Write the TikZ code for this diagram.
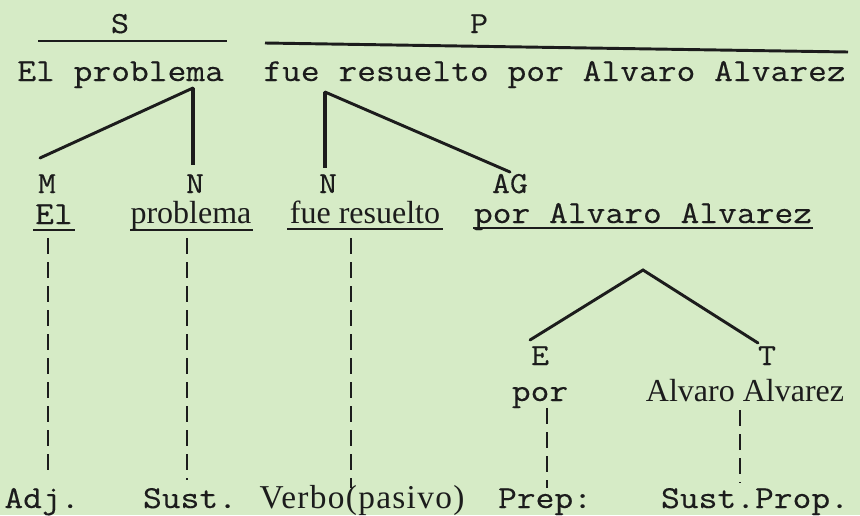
\documentclass[tikz,border=0pt]{standalone}
\usepackage{fontspec}
\setmainfont{Liberation Serif}
\setmonofont[FakeStretch=1.14,FakeBold=0.3]{Latin Modern Mono}
\definecolor{bg}{HTML}{D6EBC6}
\definecolor{ink}{HTML}{1C1C1C}
\begin{document}
\begin{tikzpicture}[x=0.75pt,y=-0.75pt,
  every node/.style={inner sep=0pt, text=ink},
  mono/.style={font=\ttfamily\fontsize{24}{24}\selectfont},
  prop/.style={font=\rmfamily\fontsize{24}{24}\selectfont},
  lab/.style={font=\ttfamily\fontsize{23}{23}\selectfont},
  bar/.style={draw=ink, line width=2.2pt},
  branch/.style={draw=ink, line width=2.2pt, line cap=round},
  trunk/.style={draw=ink, line width=3.6pt},
  uline/.style={draw=ink, line width=1.5pt},
  dl/.style={draw=ink, line width=1.3pt, dash pattern=on 12pt off 6pt}]
\fill[bg] (0,0) rectangle (860,515);
\useasboundingbox (0,0) rectangle (860,515);

% top labels and bars
\node[lab, anchor=base] (S) at (120,33) {S};
\node[lab, anchor=base] (P) at (479,33) {P};
\coordinate (sL) at (38,41); \coordinate (sR) at (227,41);
\coordinate (pL) at (265,43); \coordinate (pR) at (848,52);
\draw[bar] (sL) -- (sR);
\draw[bar] (pL) -- (pR);

% sentence
\node[mono, anchor=base west] (subj) at (17,81) {El problema};
\node[mono, anchor=base west] (pred) at (263,81) {fue resuelto por Alvaro Alvarez};

% first trees
\coordinate (a1) at (193,88);
\coordinate (a2) at (325,92);
\node[lab, anchor=base] (M) at (47,193) {M};
\node[lab, anchor=base] (N1) at (195,193) {N};
\node[lab, anchor=base] (N2) at (328,193) {N};
\node[lab, anchor=base] (AG) at (510,193) {AG};
\coordinate (mT) at (40,158);
\coordinate (agT) at (510,172);
\draw[trunk] (a1) -- (a1 |- 0,165);
\draw[branch] (a1) -- (mT);
\draw[trunk] (a2) -- (a2 |- 0,168);
\draw[branch] (a2) -- (agT);

% second row
\node[mono, anchor=base] (el) at (54,224) {El};
\node[prop, anchor=base] (prob) at (191,223) {problema};
\node[prop, anchor=base] (fue) at (365,223) {fue resuelto};
\node[mono, anchor=base] (agw) at (643,223) {por Alvaro Alvarez};
\draw[uline] (33,230) -- (75,230);
\draw[uline] (130,230) -- (253,230);
\draw[uline] (287,229) -- (443,229);
\draw[uline] (473,228) -- (813,228);

% agent tree
\coordinate (a3) at (643,270);
\coordinate (eT) at (530,340);
\coordinate (tT) at (758,343);
\draw[branch] (eT) -- (a3) -- (tT);
\node[lab, anchor=base] (E) at (540,365) {E};
\node[lab, anchor=base] (T) at (767,365) {T};
\node[mono, anchor=base] (por) at (540,401) {por};
\node[prop, anchor=base] (alv) at (745,401) {Alvaro Alvarez};

% bottom categories
\node[mono, anchor=base] (adj) at (42,508) {Adj.};
\node[mono, anchor=base] (sust) at (190,508) {Sust.};
\node[prop, anchor=base, font=\rmfamily\fontsize{25}{25}\selectfont] (verb) at (362,508) {\addfontfeature{LetterSpace=4}Verbo(pasivo)};
\node[mono, anchor=base] (prep) at (545,508) {Prep:};
\node[mono, anchor=base] (sp) at (755,508) {Sust.Prop.};

% dashed links
\draw[dl] (48,238) -- (48,473);
\draw[dl] (187,238) -- (187,480);
\draw[dl] (351,238) -- (351,488);
\draw[dl] (547,408) -- (547,488);
\draw[dl] (740,410) -- (740,483);
\end{tikzpicture}
\end{document}
